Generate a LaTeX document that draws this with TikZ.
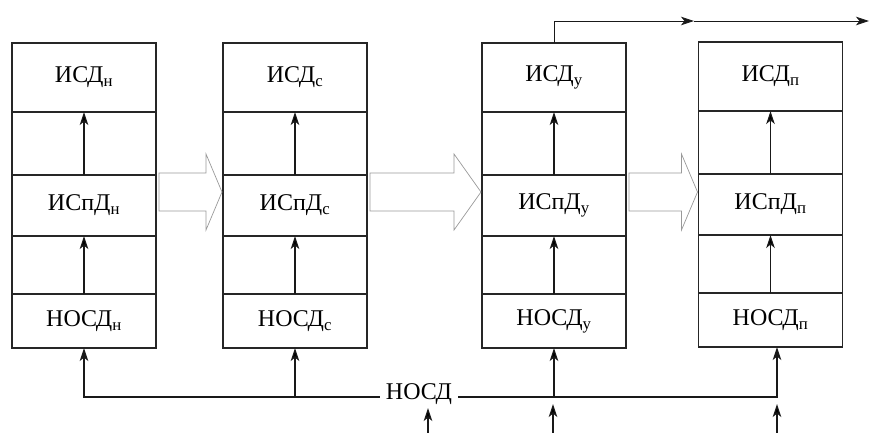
\documentclass[tikz,border=0pt]{standalone}
\usepackage{fontspec}
\setmainfont{Liberation Serif}
\usetikzlibrary{positioning,arrows.meta,calc}

\newcommand{\hollowarrow}[3]{% block arrow between two stacks, #3 = head length
  \draw[hollow] let \p1=(#1.east), \p2=(#2.west) in
    (\x1+3pt,-173pt) -- (\x2-#3,-173pt) -- (\x2-#3,-154pt) -- (\x2-1pt,-192pt)
    -- (\x2-#3,-230pt) -- (\x2-#3,-211pt) -- (\x1+3pt,-211pt) -- cycle;}

\begin{document}
\begin{tikzpicture}[->,>={Stealth[length=13pt,width=8.5pt,inset=3.5pt]},x=1pt,y=-1pt,semithick]
\tikzstyle{cell}=[-,draw=black!85,line width=1.2pt,minimum width=144pt,inner sep=0pt,outer sep=0pt,font=\fontsize{24pt}{28pt}\selectfont]
\tikzstyle{hollow}=[-,draw=black!40,line width=0.7pt]
\tikzset{feed/.style={->,line width=1.1pt,draw=black!90}}

\useasboundingbox (0,0) rectangle (870,433);

        % stack H
        \node[cell,minimum height=69pt,anchor=north]  (n0) at (84,43)          {ИСД\textsubscript{н}};
        \node[cell,minimum height=63pt]               (n1) [below=0pt of n0]   {};
        \node[cell,minimum height=61pt]               (n2) [below=0pt of n1]   {ИСпД\textsubscript{н}};
        \node[cell,minimum height=58pt]               (n3) [below=0pt of n2]   {};
        \node[cell,minimum height=54pt]               (n4) [below=0pt of n3]   {НОСД\textsubscript{н}};

        % stack C
        \node[cell,minimum height=69pt,anchor=north]  (s0) at (295,43)         {ИСД\textsubscript{с}};
        \node[cell,minimum height=63pt]               (s1) [below=0pt of s0]   {};
        \node[cell,minimum height=61pt]               (s2) [below=0pt of s1]   {ИСпД\textsubscript{с}};
        \node[cell,minimum height=58pt]               (s3) [below=0pt of s2]   {};
        \node[cell,minimum height=54pt]               (s4) [below=0pt of s3]   {НОСД\textsubscript{с}};

        % stack Y
        \node[cell,minimum height=69pt,anchor=north]  (u0) at (554,43)         {ИСД\textsubscript{у}};
        \node[cell,minimum height=63pt]               (u1) [below=0pt of u0]   {};
        \node[cell,minimum height=61pt]               (u2) [below=0pt of u1]   {ИСпД\textsubscript{у}};
        \node[cell,minimum height=58pt]               (u3) [below=0pt of u2]   {};
        \node[cell,minimum height=54pt]               (u4) [below=0pt of u3]   {НОСД\textsubscript{у}};

        % stack П
        \node[cell,minimum height=69pt,anchor=north]  (p0) at (770.5,42)       {ИСД\textsubscript{п}};
        \node[cell,minimum height=63pt]               (p1) [below=0pt of p0]   {};
        \node[cell,minimum height=61pt]               (p2) [below=0pt of p1]   {ИСпД\textsubscript{п}};
        \node[cell,minimum height=58pt]               (p3) [below=0pt of p2]   {};
        \node[cell,minimum height=54pt]               (p4) [below=0pt of p3]   {НОСД\textsubscript{п}};

        % bus
        \node[font=\fontsize{24pt}{28pt}\selectfont,inner xsep=6pt,inner ysep=2pt] (nosd) at (419,394) {НОСД};
        \coordinate (bus)  at (0,397);
        \coordinate (pin)  at ($(p4.south)+(6.5,0)$);
        \coordinate (in0)  at (428,433);
        \coordinate (in0t) at (428,408);
        \coordinate (in1)  at (553,433);
        \coordinate (in1t) at (553,404);
        \coordinate (in2)  at (777,433);
        \coordinate (in2t) at (777,404);
        \coordinate (out)  at (694,21);
        \coordinate (end)  at (869,21);

        \path[feed]
        (n4.north) edge (n2.south)
        (n2.north) edge (n0.south)
        (s4.north) edge (s2.south)
        (s2.north) edge (s0.south)
        (u4.north) edge (u2.south)
        (u2.north) edge (u0.south)
        (p4.north) edge (p2.south)
        (p2.north) edge (p0.south)
        (bus -| s4.south) edge (s4.south)
        (bus -| u4.south) edge (u4.south)
        (in0) edge (in0t)
        (in1) edge (in1t)
        (in2) edge (in2t)
        ; %end path

        \draw[feed] (nosd.west |- bus) -- (bus -| n4.south) -- (n4.south);
        \draw[feed] (nosd.east |- bus) -- (bus -| pin) -- (pin);
        \draw[feed,line width=0.8pt] (u0.north) |- (out);
        \draw[feed,line width=0.8pt] (out) -- (end);

        \hollowarrow{n2}{s2}{17pt}
        \hollowarrow{s2}{u2}{28pt}
        \hollowarrow{u2}{p2}{17pt}

\end{tikzpicture}
\end{document}
